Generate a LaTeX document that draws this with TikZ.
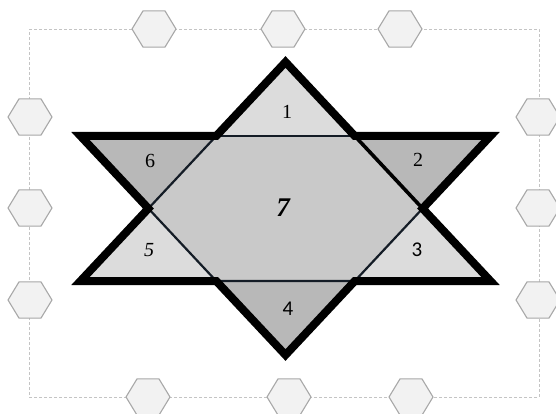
\documentclass[tikz,border=0pt]{standalone}
\usepackage{fontspec}
\newfontfamily\numserif{Liberation Serif}
\newfontfamily\numsans{Carlito}
\usetikzlibrary{shapes.geometric}
\definecolor{hexfill}{HTML}{F2F2F2}
\definecolor{hexline}{HTML}{A8A8A8}
\definecolor{framecol}{HTML}{C4C4C4}
\definecolor{lightreg}{HTML}{DCDCDC}
\definecolor{darkreg}{HTML}{B8B8B8}
\definecolor{midreg}{HTML}{C9C9C9}
\definecolor{inkline}{HTML}{141C26}
\begin{document}
\begin{tikzpicture}[x=1pt,y=-1pt,
  hexa/.style={regular polygon, regular polygon sides=6, minimum size=44pt, inner sep=0pt, outer sep=0pt, draw=hexline, fill=hexfill, line width=1.1pt, yscale=0.95},
  frame/.style={draw=framecol, line width=0.9pt, dash pattern=on 3pt off 2pt},
  lightfill/.style={fill=lightreg},
  darkfill/.style={fill=darkreg},
  midfill/.style={fill=midreg},
  innerline/.style={draw=inkline, line width=2.2pt, line join=round},
  boldinner/.style={draw=black, line width=3.6pt, line join=round},
  starline/.style={draw=black, line width=8pt, line join=miter},
  numserif/.style={font=\numserif\fontsize{20}{20}\selectfont, inner sep=0pt},
  numsans/.style={font=\numsans\fontsize{21}{21}\selectfont, inner sep=0pt}]
\useasboundingbox (0,0) rectangle (556,414);
\clip (0,0) rectangle (556,414);
% frame
\coordinate (c1) at (29,29);
\coordinate (c2) at (539,29);
\coordinate (c3) at (539,397);
\coordinate (c4) at (29,397);
\draw[frame] (c1) -- (c2) -- (c3) -- (c4) -- cycle;
% hexagons
\node[hexa] (ht1) at (154,29) {};
\node[hexa] (ht2) at (283,29) {};
\node[hexa] (ht3) at (400,29) {};
\node[hexa] (hb1) at (148,397) {};
\node[hexa] (hb2) at (289,397) {};
\node[hexa] (hb3) at (411,397) {};
\node[hexa] (hl1) at (30,117) {};
\node[hexa] (hl2) at (30,208) {};
\node[hexa] (hl3) at (30,300) {};
\node[hexa] (hr1) at (538,117) {};
\node[hexa] (hr2) at (538,208) {};
\node[hexa] (hr3) at (538,300) {};
% star geometry
\coordinate (T1) at (285.5,62);
\coordinate (T2) at (490.5,136);
\coordinate (T3) at (490.5,281);
\coordinate (T4) at (285.5,355);
\coordinate (T5) at (80.5,281);
\coordinate (T6) at (80.5,136);
\coordinate (H1) at (216.2,136);
\coordinate (H2) at (354.8,136);
\coordinate (H3) at (422.6,208.5);
\coordinate (H4) at (354.8,281);
\coordinate (H5) at (216.2,281);
\coordinate (H6) at (148.4,208.5);
% regions
\fill[midfill] (H1) -- (H2) -- (H3) -- (H4) -- (H5) -- (H6) -- cycle;
\fill[lightfill] (T1) -- (H2) -- (H1) -- cycle;
\fill[darkfill] (H2) -- (T2) -- (H3) -- cycle;
\fill[lightfill] (H3) -- (T3) -- (H4) -- cycle;
\fill[darkfill] (H4) -- (T4) -- (H5) -- cycle;
\fill[lightfill] (H5) -- (T5) -- (H6) -- cycle;
\fill[darkfill] (H6) -- (T6) -- (H1) -- cycle;
% inner lines
\draw[innerline] (H1) -- (H2);
\draw[innerline] (H3) -- (H4) -- (H5) -- (H6) -- (H1);
\draw[boldinner] (H2) -- (H3);
% star outline
\draw[starline] (T1) -- (H2) -- (T2) -- (H3) -- (T3) -- (H4) -- (T4) -- (H5) -- (T5) -- (H6) -- (T6) -- (H1) -- cycle;
% numbers
\node[numserif] (n1) at (287,112) {1};
\node[numserif] (n2) at (418,160) {2};
\node[numsans] (n3) at (417,250) {3};
\node[numsans] (n4) at (288,309) {4};
\node[numserif] (n5) at (149,250) {\itshape 5};
\node[numserif] (n6) at (150,161) {6};
\node[font=\numserif\fontsize{27}{27}\selectfont\bfseries\itshape, inner sep=0pt] (n7) at (283,208) {7};
\end{tikzpicture}
\end{document}
